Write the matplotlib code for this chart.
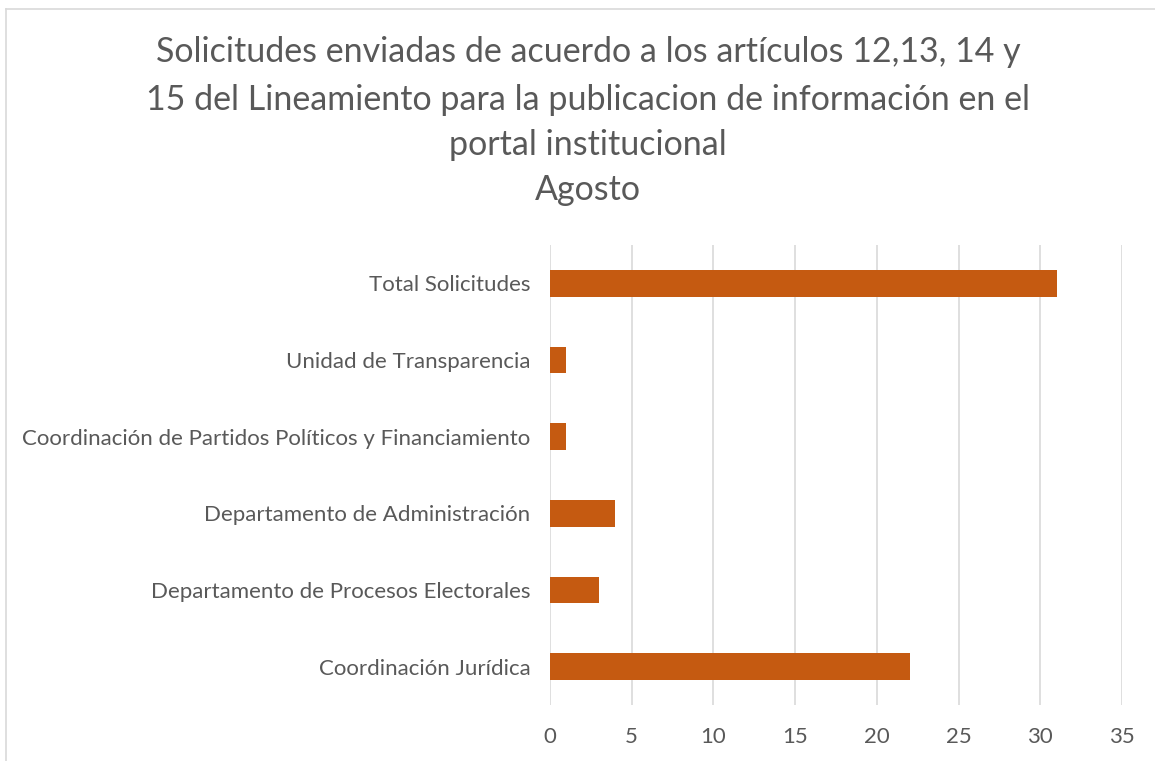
import matplotlib
matplotlib.use("Agg")
import matplotlib.pyplot as plt
from matplotlib.lines import Line2D

categories = ["Coordinación Jurídica", "Departamento de Procesos Electorales",
              "Departamento de Administración",
              "Coordinación de Partidos Políticos y Financiamiento",
              "Unidad de Transparencia", "Total Solicitudes"]
values = [22, 3, 4, 1, 1, 31]
xticks = [0, 5, 10, 15, 20, 25, 30, 35]

plt.rcParams['font.family'] = ['Lato', 'DejaVu Sans']
gray = '#595959'

fig = plt.figure(figsize=(11.55, 7.61), dpi=100)
ax = fig.add_axes([550/1155, 1-705/761, (1122-550)/1155, (705-245)/761])

ax.barh(range(len(categories)), values, height=0.35, color='#C55A11', zorder=3)
ax.set_xlim(0, 35)
ax.set_ylim(-0.5, len(categories)-0.5)
ax.set_xticks(xticks)
ax.set_yticks(range(len(categories)))
ax.set_yticklabels(categories)
ax.grid(axis='x', color='#D9D9D9', linewidth=1.2, zorder=0)
for s in ax.spines.values():
    s.set_visible(False)
ax.tick_params(axis='both', length=0, colors=gray, labelsize=16)
ax.tick_params(axis='x', pad=16)
ax.tick_params(axis='y', pad=14)

tsize = 24.5
fig.text(588/1155, 1-52/761, "Solicitudes enviadas de acuerdo a los artículos 12,13, 14 y",
         ha='center', va='center', fontsize=tsize, color=gray)
fig.text(588/1155, 1-100/761, "15 del Lineamiento para la publicacion de información en el",
         ha='center', va='center', fontsize=tsize, color=gray)
fig.text(588/1155, 1-145/761, "portal institucional",
         ha='center', va='center', fontsize=tsize, color=gray)
fig.text(588/1155, 1-190/761, "Agosto",
         ha='center', va='center', fontsize=tsize, color=gray)

fig.add_artist(Line2D([6/1155, 6/1155], [0, 1-9/761], transform=fig.transFigure, color='#D9D9D9', lw=1.2))
fig.add_artist(Line2D([6/1155, 1], [1-9/761, 1-9/761], transform=fig.transFigure, color='#D9D9D9', lw=1.2))

fig.savefig("out.png", dpi=100)
